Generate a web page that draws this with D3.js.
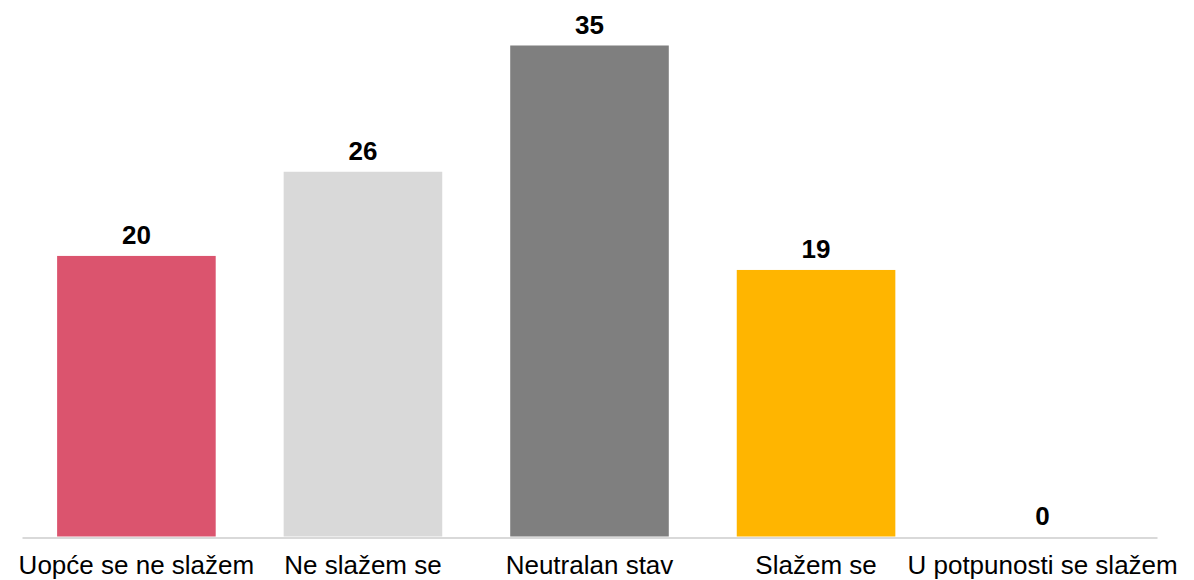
<!DOCTYPE html>
<html>
<head>
<meta charset="utf-8">
<script src="https://cdn.jsdelivr.net/npm/d3@7"></script>
<style>
  body { margin: 0; background: #fff; }
  svg { display: block; font-family: Arial, "Liberation Sans", sans-serif; }
</style>
</head>
<body>
<script>
const WIDTH = 1194;
const HEIGHT = 580;

// Data.
const categories = ['Uopće se ne slažem', 'Ne slažem se', 'Neutralan stav', 'Slažem se', 'U potpunosti se slažem'];
const values = [20, 26, 35, 19, 0];
const colors = ['#db546e', '#d9d9d9', '#7f7f7f', '#ffb500', '#ffb500'];

const BASELINE = 536.5;
const TOP = 45.5;

var svg = d3.select('body')
    .append('svg')
    .attr('width', WIDTH)
    .attr('height', HEIGHT);

var x = d3.scaleBand()
    .domain(categories)
    .range([22, 1157])
    .paddingInner(0.3)
    .paddingOuter(0.155);

var y = d3.scaleLinear()
    .domain([0, d3.max(values)])
    .range([BASELINE, TOP]);

var rows = categories.map((c, i) => ({ cat: c, value: values[i], color: colors[i] }));

// bars
svg.selectAll('.bar')
    .data(rows)
    .enter()
    .append('rect')
    .attr('class', 'bar')
    .attr('x', d => x(d.cat))
    .attr('y', d => y(d.value))
    .attr('width', x.bandwidth())
    .attr('height', d => y(0) - y(d.value))
    .style('fill', d => d.color);

// baseline axis, no ticks
var axis = svg.append('g')
    .attr('transform', `translate(0,${BASELINE + 1})`)
    .call(d3.axisBottom(x).tickSize(0).tickPadding(18));
axis.select('.domain')
    .attr('stroke', '#d9d9d9')
    .attr('stroke-width', 2);
axis.selectAll('text')
    .style('font-size', '26px')
    .style('font-family', 'Arial, "Liberation Sans", sans-serif')
    .attr('fill', '#000');

// value labels
svg.selectAll('.value')
    .data(rows)
    .enter()
    .append('text')
    .attr('class', 'value')
    .attr('x', d => x(d.cat) + x.bandwidth() / 2)
    .attr('y', d => y(d.value) - 12)
    .attr('text-anchor', 'middle')
    .style('font-size', '26px')
    .style('font-weight', 'bold')
    .style('fill', '#000')
    .text(d => d.value);
</script>
</body>
</html>
